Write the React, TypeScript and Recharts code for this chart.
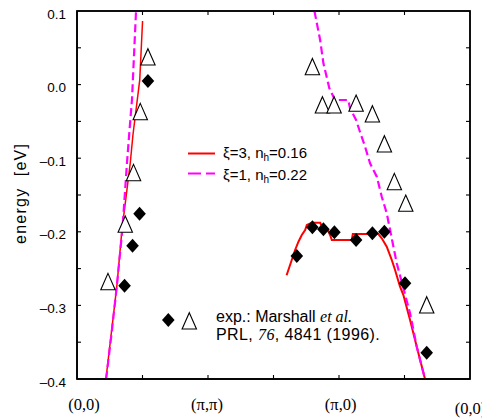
import React from 'react';
import { ComposedChart, Line, Scatter, XAxis, YAxis, ReferenceArea } from 'recharts';

// Path through the Brillouin zone: 0 = (0,0), 2 = (π,π), 4 = (π,0), 6 = (0,0)
const pathTicks = [0, 1, 2, 3, 4, 5, 6];
const pathLabels = ['(0,0)', '', '(π,π)', '', '(π,0)', '', '(0,0)'];
const energyTicks = [0.1, 0.05, 0, -0.05, -0.1, -0.15, -0.2, -0.25, -0.3, -0.35, -0.4];
const pathDomain = [0, 6];
const energyDomain = [-0.4, 0.1];

// Theory: ξ=3, n_h=0.16 (solid red)
const xi3Near = [
  { x: 0.442, y: -0.4 },
  { x: 0.61, y: -0.2723 },
  { x: 0.686, y: -0.1976 },
  { x: 0.813, y: -0.1065 },
  { x: 0.854, y: -0.0685 },
  { x: 0.958, y: 0.0063 },
  { x: 1.001, y: 0.0864 },
];
const xi3Far = [
  { x: 3.2, y: -0.259 },
  { x: 3.33, y: -0.2247 },
  { x: 3.381, y: -0.2135 },
  { x: 3.432, y: -0.2043 },
  { x: 3.483, y: -0.1976 },
  { x: 3.509, y: -0.1908 },
  { x: 3.585, y: -0.1876 },
  { x: 3.712, y: -0.1876 },
  { x: 3.738, y: -0.1921 },
  { x: 3.814, y: -0.1952 },
  { x: 3.864, y: -0.2043 },
  { x: 3.89, y: -0.2111 },
  { x: 4.195, y: -0.2111 },
  { x: 4.211, y: -0.203 },
  { x: 4.601, y: -0.203 },
  { x: 4.653, y: -0.2088 },
  { x: 4.729, y: -0.2202 },
  { x: 4.806, y: -0.2383 },
  { x: 4.856, y: -0.2519 },
  { x: 4.932, y: -0.2746 },
  { x: 4.983, y: -0.2859 },
  { x: 5.085, y: -0.3198 },
  { x: 5.187, y: -0.3561 },
  { x: 5.313, y: -0.4 },
];

// Theory: ξ=1, n_h=0.22 (dashed magenta)
const xi1Near = [
  { x: 0.445, y: -0.4 },
  { x: 0.534, y: -0.3334 },
  { x: 0.61, y: -0.2723 },
  { x: 0.696, y: -0.1935 },
  { x: 0.763, y: -0.1065 },
  { x: 0.802, y: -0.0617 },
  { x: 0.839, y: -0.0209 },
  { x: 0.9, y: 0.0973 },
  { x: 0.905, y: 0.1 },
];
const xi1Far = [
  { x: 3.625, y: 0.1 },
  { x: 3.712, y: 0.0606 },
  { x: 3.762, y: 0.0289 },
  { x: 3.853, y: -0.005 },
  { x: 3.915, y: -0.0164 },
  { x: 3.93, y: -0.0209 },
  { x: 4.14, y: -0.0209 },
  { x: 4.169, y: -0.0322 },
  { x: 4.261, y: -0.0481 },
  { x: 4.311, y: -0.0617 },
  { x: 4.398, y: -0.0844 },
  { x: 4.474, y: -0.1069 },
  { x: 4.577, y: -0.1251 },
  { x: 4.653, y: -0.1523 },
  { x: 4.729, y: -0.1749 },
  { x: 4.882, y: -0.2428 },
  { x: 5.085, y: -0.3107 },
  { x: 5.187, y: -0.3561 },
  { x: 5.313, y: -0.4 },
];

// Experiment (Marshall et al.): filled diamonds and open triangles
const expDiamonds = [
  { x: 1.083, y: 0.0049 },
  { x: 0.955, y: -0.1754 },
  { x: 0.848, y: -0.2189 },
  { x: 0.726, y: -0.2732 },
  { x: 3.356, y: -0.2329 },
  { x: 3.594, y: -0.1939 },
  { x: 3.762, y: -0.1966 },
  { x: 3.93, y: -0.2007 },
  { x: 4.261, y: -0.2111 },
  { x: 4.51, y: -0.202 },
  { x: 4.693, y: -0.1999 },
  { x: 5.008, y: -0.27 },
  { x: 5.339, y: -0.3643 },
];
const expTriangles = [
  { x: 1.083, y: 0.0375 },
  { x: 0.966, y: -0.0368 },
  { x: 0.863, y: -0.1197 },
  { x: 0.737, y: -0.1898 },
  { x: 0.473, y: -0.2678 },
  { x: 3.594, y: 0.0243 },
  { x: 3.747, y: -0.0277 },
  { x: 3.925, y: -0.0277 },
  { x: 4.261, y: -0.0254 },
  { x: 4.51, y: -0.0399 },
  { x: 4.693, y: -0.0807 },
  { x: 4.845, y: -0.1319 },
  { x: 5.019, y: -0.1613 },
  { x: 5.339, y: -0.2995 },
];

const RED = '#ff0000';
const MAGENTA = '#ff00ff';
const FRAME = '#000000';
const SANS = '"Liberation Sans", Arial, Helvetica, sans-serif';
const SERIF = '"Liberation Serif", "Times New Roman", serif';

const W = 482;
const H = 412;
const MARGIN = { top: 3, right: 20, bottom: 0, left: 0 };
const Y_AXIS_W = 69;
const X_AXIS_H = 41;
const PLOT_X = MARGIN.left + Y_AXIS_W;
const PLOT_Y = MARGIN.top;
const PLOT_W = W - MARGIN.left - MARGIN.right - Y_AXIS_W;
const PLOT_H = H - MARGIN.top - MARGIN.bottom - X_AXIS_H;
const TICK = 4;
// Recharts places tick text tickSize + tickMargin away from the axis line
const AXIS_GAP = 8;

// Frame positions of the axis ticks (same linear mapping as the chart axes)
const framePathX = (v: number) => PLOT_X + ((v - pathDomain[0]) / (pathDomain[1] - pathDomain[0])) * PLOT_W;
const frameEnergyY = (v: number) => PLOT_Y + ((energyDomain[1] - v) / (energyDomain[1] - energyDomain[0])) * PLOT_H;

const diamondPoints = (cx: number, cy: number) =>
  `${cx},${cy - 7} ${cx + 6.3},${cy} ${cx},${cy + 7} ${cx - 6.3},${cy}`;
const trianglePoints = (cx: number, cy: number) =>
  `${cx},${cy - 8.3} ${cx + 7.2},${cy + 8} ${cx - 7.2},${cy + 8}`;

const DiamondShape = (props: any) => (
  <polygon points={diamondPoints(props.cx, props.cy)} fill="#000" stroke="none" />
);
const TriangleShape = (props: any) => (
  <polygon points={trianglePoints(props.cx, props.cy)} fill="#fff" stroke="#000" strokeWidth={1.1} />
);

const formatEnergy = (v: number) => {
  const steps = Math.round(v * 20);
  if (steps % 2 !== 0) return '';
  if (steps === 0) return '0.0';
  const s = Math.abs(v).toFixed(1);
  return v < 0 ? '\u2013' + s : s;
};

const EnergyTick = (props: any) => {
  const { x, y, payload } = props;
  const label = formatEnergy(payload.value);
  if (!label) return <g />;
  const axisX = x + AXIS_GAP;
  return (
    <text x={axisX - 11} y={y} dy={7.5} textAnchor="end" fontSize={13.5} fontFamily={SANS} fill="#000">
      {label}
    </text>
  );
};

const labelShiftX = [7, 0, -1, 0, 1.7, 0, 0.5];
const labelShiftY = [0, 0, 0, 0, 0, 0, 4];

const PathTick = (props: any) => {
  const { x, y, payload } = props;
  const i = pathTicks.indexOf(payload.value);
  const label = pathLabels[i] ?? '';
  if (!label) return <g />;
  const axisY = y - AXIS_GAP;
  return (
    <text
      x={x + (labelShiftX[i] ?? 0)}
      y={axisY + 31 + (labelShiftY[i] ?? 0)}
      textAnchor="middle"
      fontSize={16.5}
      fontFamily={SERIF}
      fill="#000"
    >
      {label}
    </text>
  );
};

// Frame edges, inward ticks, axis title and legends, drawn on top of the plot
const FramePanel = () => {
  const left = PLOT_X;
  const right = PLOT_X + PLOT_W;
  const top = PLOT_Y;
  const bottom = PLOT_Y + PLOT_H;
  const titleX = 12;
  const titleY = PLOT_Y + PLOT_H / 2 - 1;
  return (
    <svg width={W} height={H} style={{ position: 'absolute', left: 0, top: 0, pointerEvents: 'none' }}>
      <path
        d={`M${left},${top} H${right} V${bottom} H${left} Z`}
        fill="none"
        stroke={FRAME}
        strokeWidth={1.6}
      />
      <g stroke={FRAME} strokeWidth={1.1}>
        {pathTicks.slice(1, -1).map((v) => (
          <g key={`p${v}`}>
            <line x1={framePathX(v)} y1={bottom} x2={framePathX(v)} y2={bottom - TICK} />
            <line x1={framePathX(v)} y1={top} x2={framePathX(v)} y2={top + TICK} />
          </g>
        ))}
        {energyTicks.slice(1, -1).map((v) => (
          <g key={`e${v}`}>
            <line x1={left} y1={frameEnergyY(v)} x2={left + TICK} y2={frameEnergyY(v)} />
            <line x1={right} y1={frameEnergyY(v)} x2={right - TICK} y2={frameEnergyY(v)} />
          </g>
        ))}
      </g>
      <text
        x={titleX}
        y={titleY}
        transform={`rotate(-90, ${titleX}, ${titleY})`}
        textAnchor="middle"
        dominantBaseline="central"
        fontSize={16}
        fontFamily={SANS}
        fill="#000"
        textLength={100}
        lengthAdjust="spacing"
        style={{ whiteSpace: 'pre' }}
      >
        {'energy  [eV]'}
      </text>
      <g fontFamily={SANS} fontSize={15} fill="#000">
        <line x1={180} y1={145.5} x2={207} y2={145.5} stroke={RED} strokeWidth={2} />
        <text x={215} y={150}>
          ξ=3, n<tspan fontSize={10} dy={3}>h</tspan>
          <tspan dy={-3}>=0.16</tspan>
        </text>
        <line x1={180} y1={165.5} x2={207} y2={165.5} stroke={MAGENTA} strokeWidth={2.2} strokeDasharray="13 5" />
        <text x={215} y={172}>
          ξ=1, n<tspan fontSize={10} dy={3}>h</tspan>
          <tspan dy={-3}>=0.22</tspan>
        </text>
      </g>
      <polygon points={diamondPoints(160.3, 312)} fill="#000" />
      <polygon points={trianglePoints(181.3, 313)} fill="#fff" stroke="#000" strokeWidth={1.1} />
      <g fontFamily={SANS} fontSize={16} fill="#000">
        <text x={208} y={314}>
          exp.: Marshall <tspan fontFamily={SERIF} fontStyle="italic">et al.</tspan>
        </text>
        <text x={208} y={332} letterSpacing={0.4}>
          PRL, <tspan fontFamily={SERIF} fontStyle="italic">76</tspan>, 4841 (1996).
        </text>
      </g>
    </svg>
  );
};

export default function App() {
  return (
    <div style={{ width: W, height: H, position: 'relative', background: '#fff' }}>
      <ComposedChart width={W} height={H} margin={MARGIN}>
        <XAxis
          dataKey="x"
          type="number"
          domain={pathDomain}
          ticks={pathTicks}
          height={X_AXIS_H}
          interval={0}
          tickSize={6}
          tickMargin={2}
          stroke={FRAME}
          axisLine
          tickLine={false}
          tick={<PathTick />}
        />
        <YAxis
          dataKey="y"
          type="number"
          domain={energyDomain}
          ticks={energyTicks}
          width={Y_AXIS_W}
          interval={0}
          tickSize={6}
          tickMargin={2}
          stroke={FRAME}
          axisLine
          tickLine={false}
          tick={<EnergyTick />}
        />
        <ReferenceArea
          x1={0}
          x2={6}
          y1={-0.4}
          y2={0.1}
          fill="#fff"
          fillOpacity={0}
          stroke={FRAME}
          strokeWidth={1.3}
          strokeOpacity={1}
        />
        <Scatter data={expDiamonds} shape={<DiamondShape />} isAnimationActive={false} />
        <Scatter data={expTriangles} shape={<TriangleShape />} isAnimationActive={false} />
        <Line data={xi3Near} dataKey="y" stroke={RED} strokeWidth={1.5} dot={false} isAnimationActive={false} type="linear" />
        <Line data={xi3Far} dataKey="y" stroke={RED} strokeWidth={2} dot={false} isAnimationActive={false} type="linear" />
        <Line data={xi1Near} dataKey="y" stroke={MAGENTA} strokeWidth={2.2} strokeDasharray="8 4" dot={false} isAnimationActive={false} type="linear" />
        <Line data={xi1Far} dataKey="y" stroke={MAGENTA} strokeWidth={2.2} strokeDasharray="8 4" dot={false} isAnimationActive={false} type="linear" />
      </ComposedChart>
      <FramePanel />
    </div>
  );
}
